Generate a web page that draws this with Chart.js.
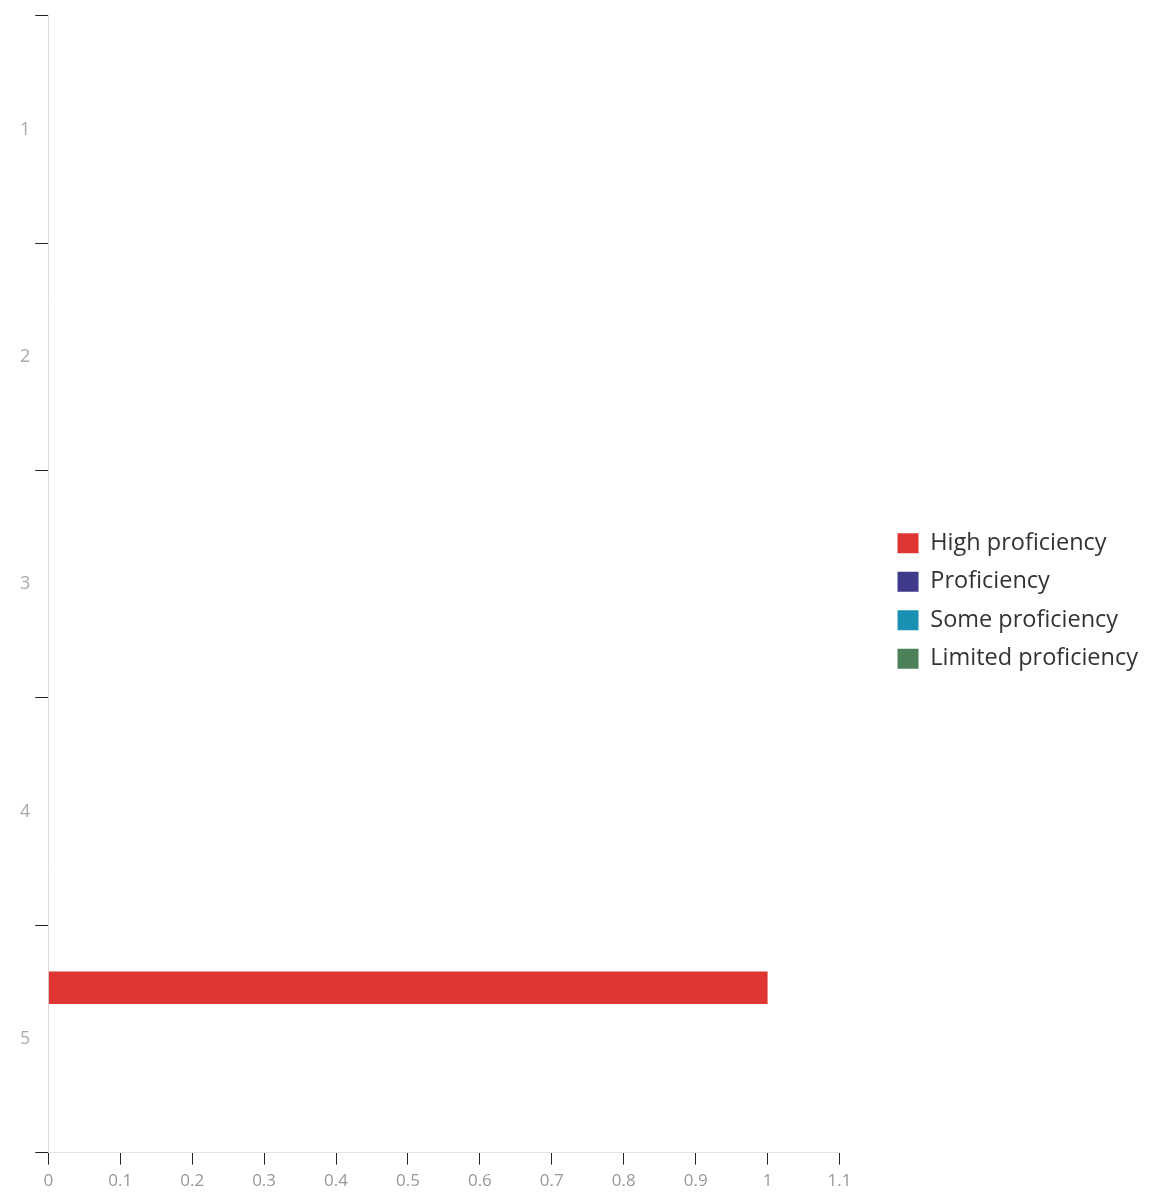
<!DOCTYPE html>
<html lang="en">
<head>
    <meta charset="UTF-8">
    <title>Proficiency</title>
    <script src="https://cdn.jsdelivr.net/npm/chart.js"></script>
    <style>
        html, body {
            margin: 0;
            padding: 0;
            background: #fff;
        }
        .wrap {
            width: 1160px;
            height: 1204px;
        }
    </style>
</head>
<body>
    <div class="wrap"><canvas id="myChart"></canvas></div>
    <script>
        // data
        var categories = ['1', '2', '3', '4', '5'];
        var seriesNames = ['High proficiency', 'Proficiency', 'Some proficiency', 'Limited proficiency'];
        var highProficiency = [0, 0, 0, 0, 1];
        var proficiency = [0, 0, 0, 0, 0];
        var someProficiency = [0, 0, 0, 0, 0];
        var limitedProficiency = [0, 0, 0, 0, 0];
        var xTicks = [0, 0.1, 0.2, 0.3, 0.4, 0.5, 0.6, 0.7, 0.8, 0.9, 1, 1.1];

        var colors = ['#df3633', '#3f3a8c', '#1a90b2', '#4b8058'];
        var seriesValues = [highProficiency, proficiency, someProficiency, limitedProficiency];

        var LEGEND_GAP = 43;
        var LEGEND_RAISE = 5;

        // leave empty room between the plot and the legend
        var legendGap = {
            id: 'legendGap',
            afterInit: function(chart) {
                var legend = chart.legend;
                var origFit = legend.fit;
                legend.fit = function() {
                    origFit.call(this);
                    this.width += LEGEND_GAP;
                };
            },
            afterLayout: function(chart) {
                var legend = chart.legend;
                legend.left += LEGEND_GAP;
                legend.top -= LEGEND_RAISE;
                legend.bottom -= LEGEND_RAISE;
            }
        };

        function drawChart() {
            var datasets = seriesNames.map(function(name, i) {
                return {
                    label: name,
                    data: seriesValues[i],
                    backgroundColor: colors[i],
                    borderWidth: 0,
                    categoryPercentage: 0.6,
                    barPercentage: 0.95
                };
            });

            var ctx = document.getElementById('myChart').getContext('2d');
            var myChart = new Chart(ctx, {
                type: 'bar',
                data: {
                    labels: categories,
                    datasets: datasets
                },
                plugins: [legendGap],
                options: {
                    indexAxis: 'y',
                    responsive: true,
                    maintainAspectRatio: false,
                    animation: false,
                    layout: {
                        padding: { top: 15, left: 15, right: 12, bottom: 7 }
                    },
                    plugins: {
                        legend: {
                            position: 'right',
                            labels: {
                                boxWidth: 21,
                                boxHeight: 20,
                                padding: 15,
                                color: '#333',
                                font: { family: 'Open Sans', size: 23.5, lineHeight: 1.25 }
                            }
                        },
                        tooltip: { enabled: false }
                    },
                    scales: {
                        x: {
                            min: 0,
                            max: 1.1,
                            afterBuildTicks: function(scale) {
                                scale.ticks = xTicks.map(function(v) { return { value: v }; });
                            },
                            grid: {
                                drawOnChartArea: false,
                                tickColor: '#222',
                                tickLength: 12
                            },
                            border: { color: '#e4e4e4' },
                            ticks: {
                                color: '#999',
                                padding: 6,
                                maxRotation: 0,
                                font: { family: 'Open Sans', size: 17 },
                                callback: function(v) { return String(Math.round(v * 10) / 10); }
                            }
                        },
                        y: {
                            grid: {
                                drawOnChartArea: false,
                                tickColor: '#222',
                                tickLength: 13
                            },
                            border: { color: '#dcdcdc' },
                            ticks: {
                                color: '#aaa',
                                padding: 5,
                                font: { family: 'Open Sans', size: 18 }
                            }
                        }
                    }
                }
            });
        }

        Promise.all([
            document.fonts.load('23.5px "Open Sans"'),
            document.fonts.load('17px "Open Sans"')
        ]).then(drawChart, drawChart);
    </script>
</body>
</html>
